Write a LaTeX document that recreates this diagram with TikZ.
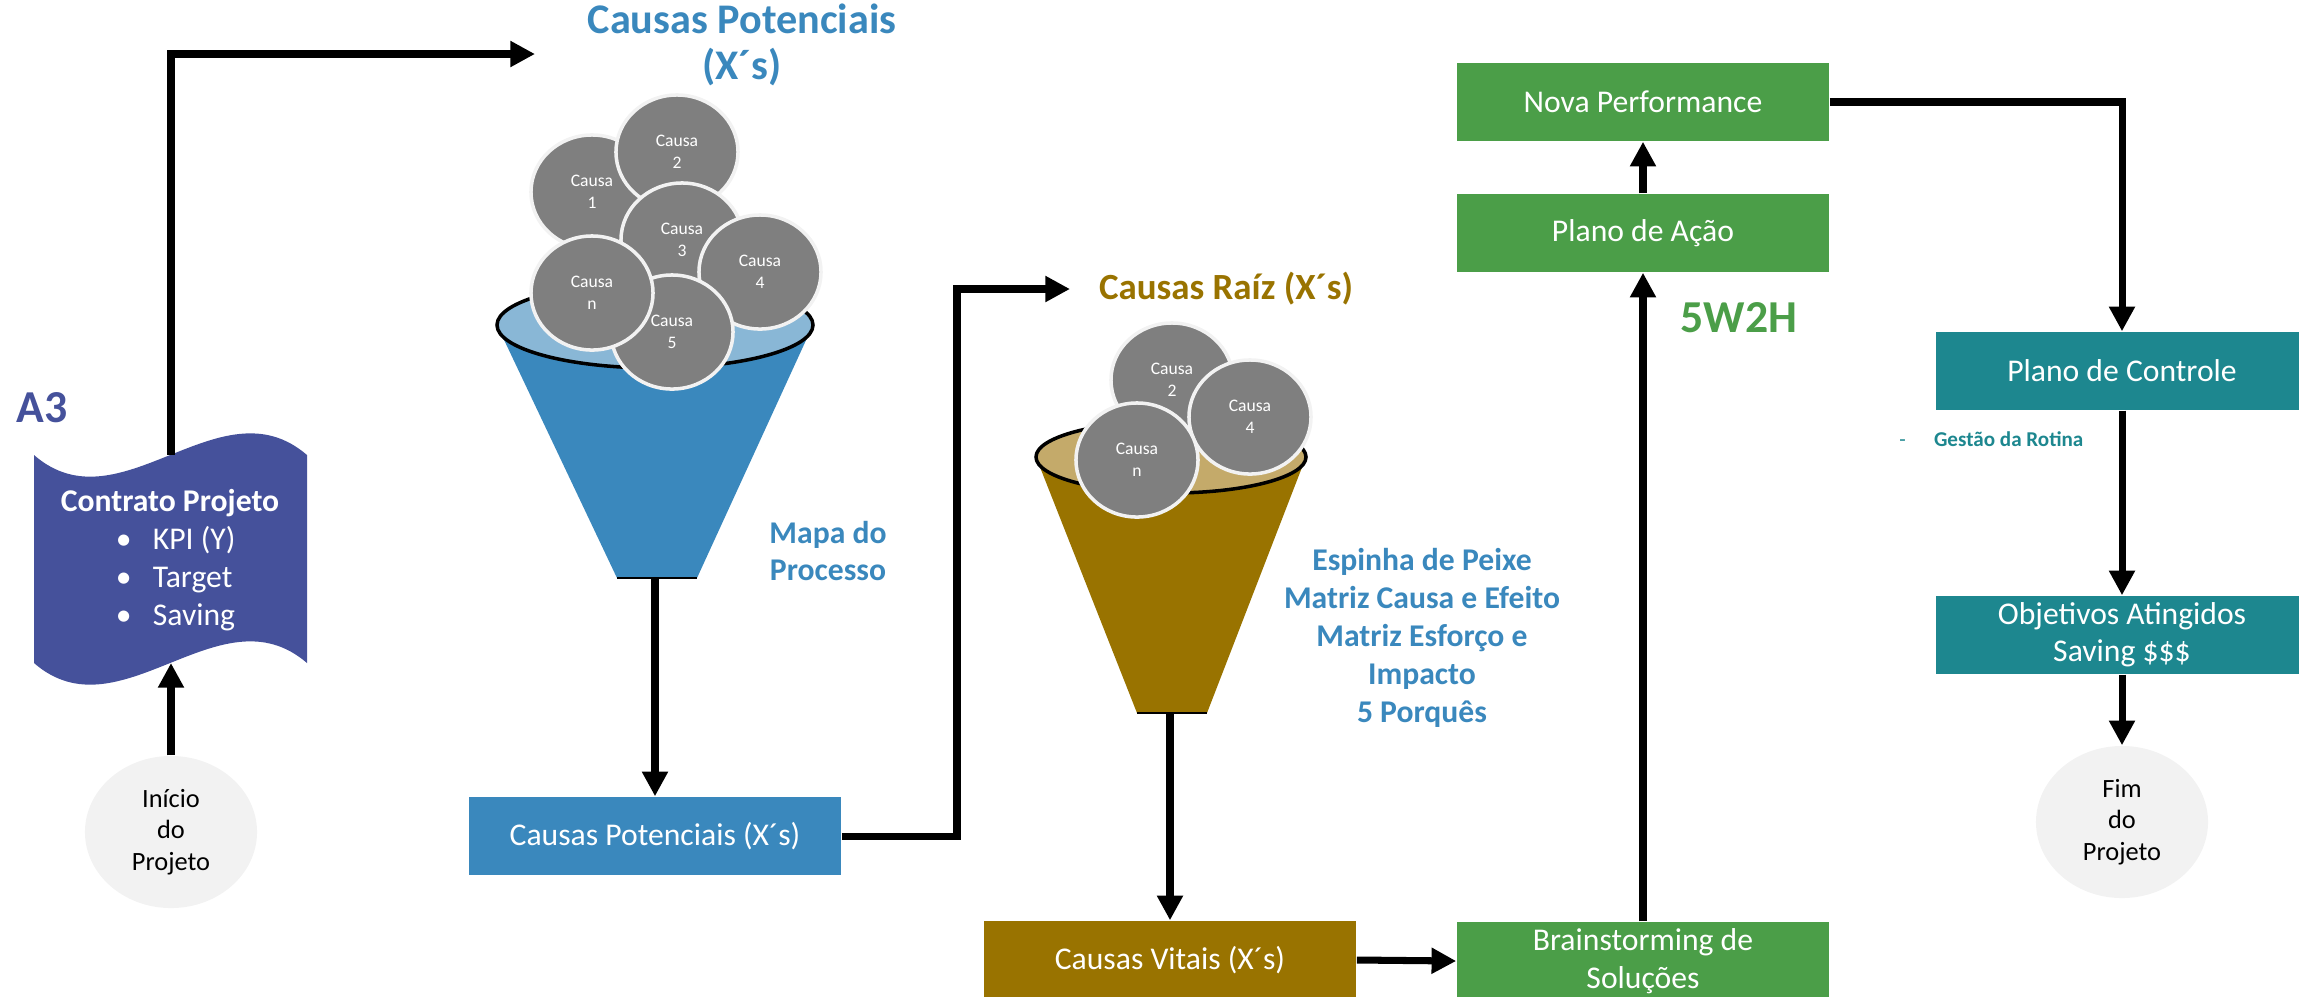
\documentclass[tikz,border=0pt]{standalone}
\usepackage{fontspec}
\setmainfont{Carlito}
\usepackage{tikz}
\usetikzlibrary{arrows.meta}
\usetikzlibrary{shapes.geometric}

\definecolor{azul}{RGB}{58,136,189}
\definecolor{azulclaro}{RGB}{137,183,214}
\definecolor{ouro}{RGB}{153,115,0}
\definecolor{ouroclaro}{RGB}{196,170,106}
\definecolor{verde}{RGB}{75,158,72}
\definecolor{petroleo}{RGB}{29,135,143}
\definecolor{anil}{RGB}{69,81,155}
\definecolor{cinza}{RGB}{127,127,127}
\definecolor{gelo}{RGB}{242,242,242}

\newcommand{\itemlinha}[1]{\makebox[1.08cm][l]{\textbullet\hspace{6pt}#1}}

\begin{document}
\begin{tikzpicture}[x=0.01cm, y=-0.01cm,
  seta/.style={-{Triangle[length=7pt,width=7pt]}, line width=2pt},
  caixa/.style={minimum width=3.72cm, minimum height=0.78cm, inner sep=0pt, text=white, align=center, font=\fontsize{9}{10.8}\selectfont},
  causa/.style={ellipse, fill=cinza, draw=gelo, line width=1pt, minimum width=1.22cm, minimum height=1.14cm, inner sep=0pt, text=white, align=center, font=\fontsize{5}{6.2}\selectfont},
  bola/.style={ellipse, fill=gelo, minimum width=1.72cm, minimum height=1.52cm, inner sep=0pt, align=center, font=\fontsize{7.5}{9}\selectfont},
  titulo/.style={align=center, font=\bfseries\fontsize{12}{13}\selectfont},
  nota/.style={align=center, text=azul, font=\bfseries\fontsize{9}{10.8}\selectfont}]
  \useasboundingbox (0,0) rectangle (2299,996);

  \fill [anil] (34,455) .. controls (120,530) and (220,380) .. (307,455) -- (307,663)
    .. controls (220,588) and (120,738) .. (34,663) -- cycle;
  \coordinate (contratoTop) at (171,455);
  \coordinate (contratoBot) at (171,663);
  \node [text=white, align=center, font=\fontsize{9}{10.8}\selectfont] (contrato) at (170,560)
    {\textbf{Contrato Projeto}\\\itemlinha{KPI (Y)}\\\itemlinha{Target}\\\itemlinha{Saving}};
  \node [text=anil, font=\bfseries\fontsize{13}{15}\selectfont] (a3) at (42,408) {A3};
  \node [bola] (inicio) at (171,832) {Início\\do\\Projeto};
  \draw [seta] (inicio.north) -- (contratoBot);

  \coordinate (potIn) at (535,54);
  \draw [seta] (contratoTop) |- (potIn);
  \node [titulo, text=azul] (potTit) at (742,45) {Causas Potenciais\\(X´s)};

  \fill [azul] (497,325) -- (617,578) -- (697,578) -- (813,325) -- cycle;
  \draw [fill=azulclaro, line width=1pt] (655,325) ellipse [x radius=158, y radius=43];
  \draw [line width=0.8pt] (617,578) -- (697,578);
  \coordinate (funilAzul) at (655,578);
  \node [causa] (c1) at (592,192) {Causa\\1};
  \node [causa] (c2) at (677,152) {Causa\\2};
  \node [causa] (c3) at (682,240) {Causa\\3};
  \node [causa] (c4) at (760,272) {Causa\\4};
  \node [causa] (c5) at (672,332) {Causa\\5};
  \node [causa] (cn) at (592,293) {Causa\\n};
  \node [nota] (mapa) at (828,551) {Mapa do\\Processo};

  \node [caixa, fill=azul] (pot) at (655,836) {Causas Potenciais (X´s)};
  \draw [seta] (funilAzul) -- (pot.north);

  \coordinate (dobra) at (957,289);
  \coordinate (raizIn) at (1070,289);
  \draw [seta] (pot.east) -| (dobra) -- (raizIn);
  \node [titulo, text=ouro, font=\bfseries\fontsize{10.5}{12}\selectfont] (raizTit) at (1226,289) {Causas Raíz (X´s)};

  \fill [ouro] (1036,457) -- (1137,713) -- (1207,713) -- (1306,457) -- cycle;
  \draw [fill=ouroclaro, line width=1pt] (1171,457) ellipse [x radius=135, y radius=36];
  \draw [line width=0.8pt] (1137,713) -- (1207,713);
  \coordinate (funilOuro) at (1170,713);
  \node [causa] (r2) at (1172,380) {Causa\\2};
  \node [causa] (r4) at (1250,417) {Causa\\4};
  \node [causa] (rn) at (1137,460) {Causa\\n};
  \node [nota] (ferramentas) at (1422,638)
    {Espinha de Peixe\\Matriz Causa e Efeito\\Matriz Esforço e\\Impacto\\5 Porquês};

  \node [caixa, fill=ouro] (vit) at (1170,960) {Causas Vitais (X´s)};
  \draw [seta] (funilOuro) -- (vit.north);

  \node [caixa, fill=verde] (brain) at (1643,961) {Brainstorming de\\Soluções};
  \node [caixa, fill=verde] (acao) at (1643,233) {Plano de Ação};
  \node [caixa, fill=verde] (nova) at (1643,102) {Nova Performance};
  \node [text=verde, font=\bfseries\fontsize{13}{15}\selectfont] (w2h) at (1739,318) {5W2H};
  \draw [seta] (vit.east) -- (brain.west);
  \draw [seta] (brain.north) -- (acao.south);
  \draw [seta] (acao.north) -- (nova.south);

  \node [caixa, fill=petroleo] (controle) at (2122,371) {Plano de Controle};
  \node [anchor=west, text=petroleo, font=\fontsize{6}{7}\selectfont] (rotina) at (1887,439)
    {-\hspace{8pt}\textbf{Gestão da Rotina}};
  \node [caixa, fill=petroleo, font=\fontsize{9}{10.5}\selectfont] (objetivos) at (2122,635)
    {Objetivos Atingidos\\Saving \$\$\$};
  \node [bola] (fim) at (2122,822) {Fim\\do\\Projeto};
  \draw [seta] (nova.east) -| (controle.north);
  \draw [seta] (controle.south) -- (objetivos.north);
  \draw [seta] (objetivos.south) -- (fim.north);
\end{tikzpicture}
\end{document}
